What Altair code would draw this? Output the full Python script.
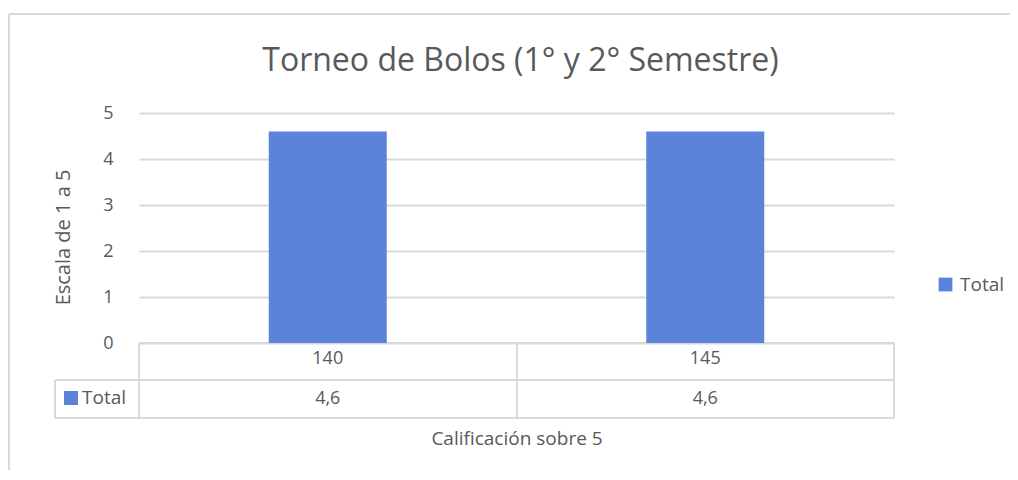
import altair as alt
import pandas as pd

# ---- data ----
categories = ["140", "145"]
values = [4.6, 4.6]
series_name = "Total"
y_ticks = [0, 1, 2, 3, 4, 5]
title_text = "Torneo de Bolos (1° y 2° Semestre)"

W, H = 755, 230
GREY = "#595959"
LINE = "#d9d9d9"
BLUE = "#5B83D9"
FONT = "Open Sans"
PB = 127

df = pd.DataFrame({"cat": categories, "value": values, "series": [series_name] * len(categories)})

xscale = alt.Scale(domain=categories, paddingInner=0, paddingOuter=0)
color = alt.Color("series:N", scale=alt.Scale(domain=[series_name], range=[BLUE]),
                  legend=alt.Legend(title=None, orient="none", legendX=797, legendY=162,
                                    symbolType="square", symbolSize=190, symbolStrokeWidth=0,
                                    labelFontSize=19, labelColor=GREY, labelFont=FONT,
                                    padding=0, symbolOffset=0, labelOffset=5))

bars = alt.Chart(df).mark_bar(size=118).encode(
    x=alt.X("cat:N", scale=xscale, sort=categories,
            axis=alt.Axis(title="Calificación sobre 5", labelAngle=0, labelFontSize=18,
                          labelColor=GREY, labelFont=FONT, labelPadding=6, ticks=False, tickSize=0,
                          domain=False, titlePadding=62, titleFontSize=19, titleFont=FONT,
                          titleFontWeight="normal", titleColor=GREY)),
    y=alt.Y("value:Q", scale=alt.Scale(domain=[0, 5], nice=False),
            axis=alt.Axis(title="Escala de 1 a 5", values=y_ticks, format="d", grid=True,
                          gridColor=LINE, gridWidth=2, domain=False, ticks=False, tickSize=0,
                          labelFontSize=18, labelColor=GREY, labelFont=FONT, labelPadding=26,
                          titleFontSize=20, titleFont=FONT, titleFontWeight="normal",
                          titleColor=GREY, titlePadding=29, titleY=124)),
    color=color,
)

# chart title as text
title_df = pd.DataFrame({"t": [title_text]})
title = alt.Chart(title_df).mark_text(fontSize=32, font=FONT, color=GREY, align="center",
                                       baseline="middle").encode(
    x=alt.value(W / 2 + 4), y=alt.value(-52), text="t:N")

# table values row
vals = alt.Chart(df).transform_calculate(
    lbl="replace(format(datum.value, '.1f'), '.', ',')"
).mark_text(fontSize=18, font=FONT, color=GREY, baseline="middle").encode(
    x=alt.X("cat:N", scale=xscale, sort=categories),
    y=alt.value(H + 56),
    text="lbl:N",
)

# table legend key
key_sq = alt.Chart(df.head(1)).mark_square(size=196, opacity=1).encode(
    x=alt.value(-68), y=alt.value(H + 55),
    color=alt.Color("series:N", scale=alt.Scale(domain=[series_name], range=[BLUE]), legend=None)
)
key_txt = alt.Chart(df.head(1)).mark_text(fontSize=19, font=FONT, color=GREY, align="left", baseline="middle").encode(
    x=alt.value(-57), y=alt.value(H + 55), text="series:N"
)

# table grid lines and chart frame (decoration)
lines_df = pd.DataFrame({
    "x": [0, -84, -84, 0, 378, W, -84, -130, -130],
    "x2": [W, W, W, 0, 378, W, -84, W + 124, -130],
    "y": [H, H + 37, H + 75, H, H, H, H + 37, -99, -99],
    "y2": [H, H + 37, H + 75, H + 75, H + 75, H + 75, H + 75, -99, H + PB],
})
rules = []
for i, r in lines_df.iterrows():
    rules.append(alt.Chart(df.head(1)).mark_rule(color=LINE, strokeWidth=2).encode(
        x=alt.value(float(r.x)), x2=alt.value(float(r.x2)),
        y=alt.value(float(r.y)), y2=alt.value(float(r.y2))))

chart = alt.layer(*rules, bars, vals, key_sq, key_txt, title).properties(
    width=W, height=H,
    autosize=alt.AutoSizeParams(type="none"),
    padding={"left": 131, "top": 105, "right": 116, "bottom": PB},
).configure(font=FONT, view=alt.ViewConfig(stroke=None))

chart.save("out.html", embed_options={"renderer": "svg", "actions": False})
